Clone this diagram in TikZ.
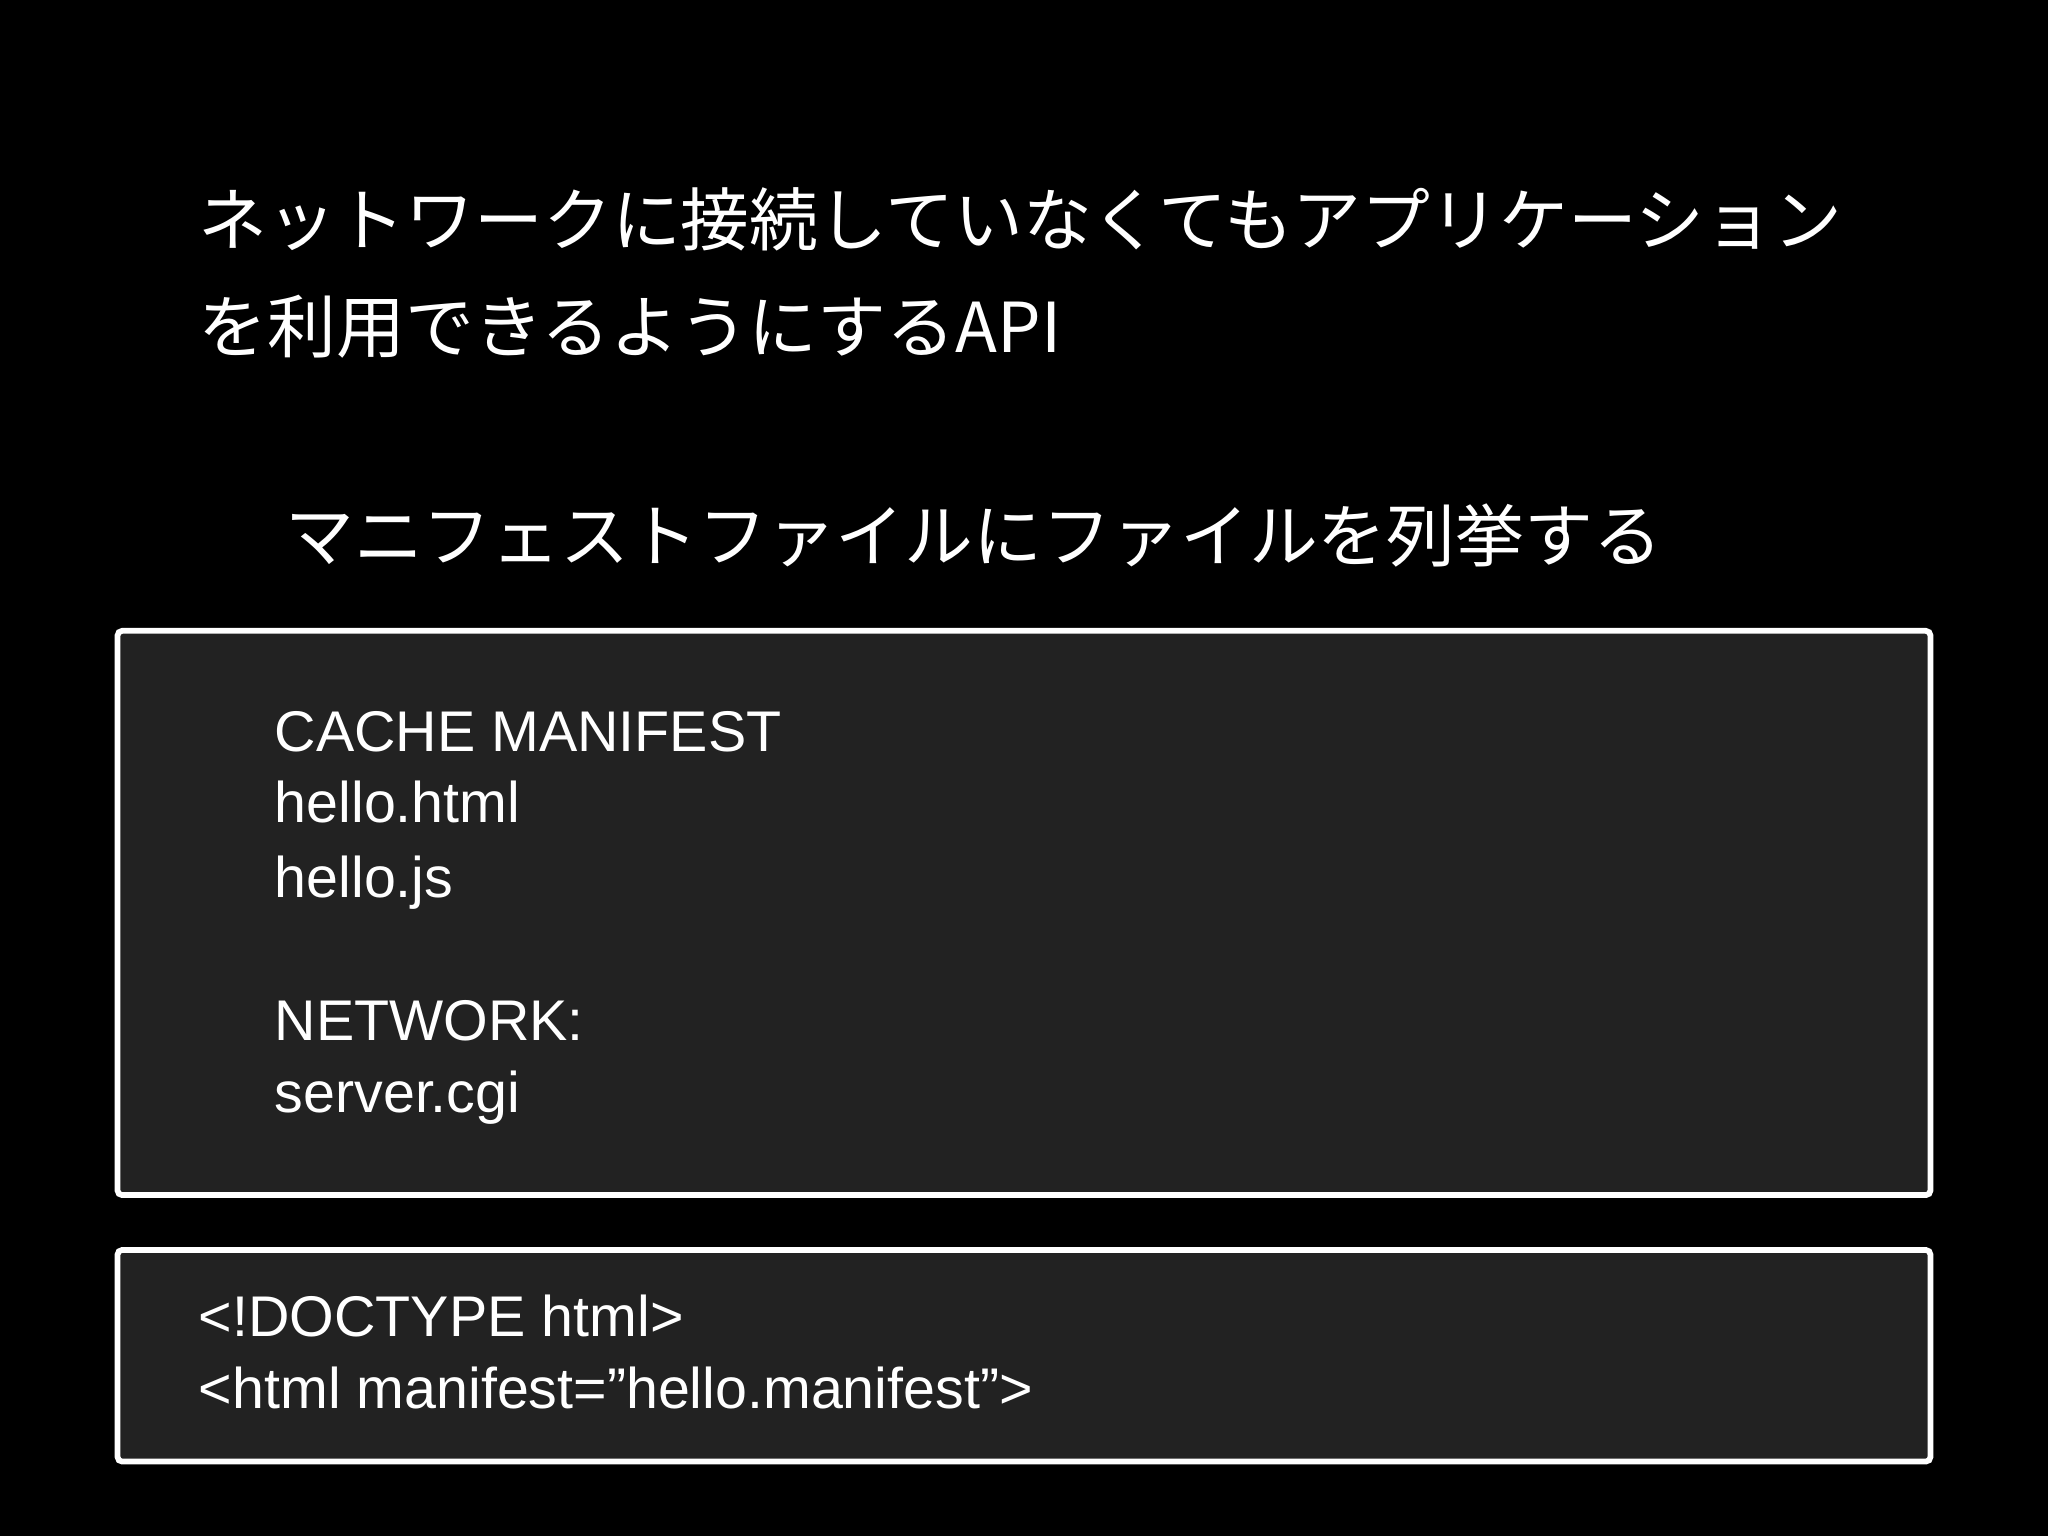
\documentclass[tikz,border=0pt]{standalone}
\usepackage{fontspec}
\setmainfont{Noto Sans CJK JP}
\newfontfamily\latinf{Liberation Sans}
\definecolor{boxfill}{HTML}{222222}
\begin{document}
\begin{tikzpicture}[x=0.02cm,y=-0.02cm,
  jp/.style={anchor=base west,text=white,inner sep=0pt,font=\fontsize{30pt}{36pt}\selectfont},
  code/.style={anchor=base west,text=white,inner sep=0pt,font=\latinf\fontsize{25pt}{30pt}\selectfont},
  panel/.style={draw=white,line width=2.5pt,fill=boxfill,rounded corners=2pt}]
\fill[black] (0,0) rectangle (1568,1176);
\useasboundingbox (0,0) rectangle (1568,1176);
\node[jp] (t1) at (152,188) {ネットワークに接続していなくてもアプリケーション};
\node[jp] (t2) at (152,270) {を利用できるようにするAPI};
\node[jp] (t3) at (218,430) {マニフェストファイルにファイルを列挙する};
\draw[panel] (90,483) rectangle (1478,915);
\draw[panel] (90,957) rectangle (1478,1119);
\node[code] (c1) at (210,575) {CACHE MANIFEST};
\node[code] (c2) at (210,630) {hello.html};
\node[code] (c3) at (210,687) {hello.js};
\node[code] (c4) at (210,797) {NETWORK:};
\node[code] (c5) at (210,852) {server.cgi};
\node[code] (h1) at (152,1023) {<!DOCTYPE html>};
\node[code] (h2) at (152,1078) {<html manifest=”hello.manifest”>};
\end{tikzpicture}
\end{document}
